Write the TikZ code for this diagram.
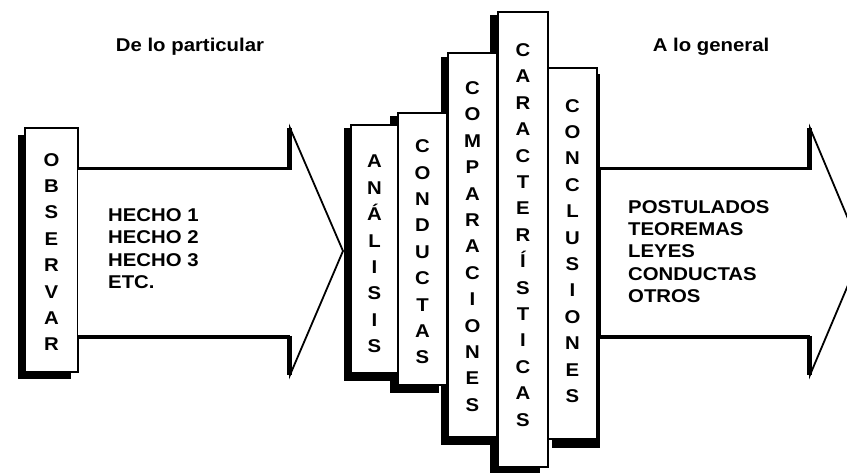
\documentclass[tikz,border=0pt]{standalone}
\usepackage{fontspec}
\setmainfont{Liberation Sans}[FakeStretch=1.1]
\begin{document}
\begin{tikzpicture}[x=1pt,y=-1pt,
  boxline/.style={draw=black, fill=white, line width=1.4pt, line join=miter},
  shadowfill/.style={fill=black},
  lettercol/.style={font=\bfseries\fontsize{18.5}{26.4}\selectfont, align=center, inner sep=0pt},
  listtext/.style={font=\bfseries\fontsize{18.5}{22.4}\selectfont, align=left, inner sep=0pt, anchor=west},
  headtext/.style={font=\bfseries\fontsize{18.5}{22}\selectfont, inner sep=0pt}]
\useasboundingbox (0,0) rectangle (847,473);
\clip (0,0) rectangle (847,473);
\fill[white] (0,0) rectangle (847,473);

% headings
\node[headtext] (particular) at (190,47) {De lo particular};
\node[headtext] (general) at (711,47) {A lo general};

% OBSERVAR box
\fill[shadowfill] (18,135) rectangle (71,379);
\draw[boxline] (25,128) rectangle (78,372);
\node[lettercol] (observar) at (51.5,252) {O\\B\\S\\E\\R\\V\\A\\R};

% first arrow
\draw[boxline, line width=1.8pt] (78,169) -- (290,169) -- (290,128) -- (343,251) -- (290,375) -- (290,337) -- (78,337);
\draw[line width=3pt] (78,169) -- (290,169);
\draw[line width=4pt] (78,337) -- (290,337);
\draw[line width=5pt] (289,128) -- (289,170);
\draw[line width=5pt] (289,336) -- (289,375);
\node[listtext] (hechos) at (108,248.5) {HECHO 1\\HECHO 2\\HECHO 3\\ETC.};

% stacked boxes, back to front
\fill[shadowfill] (490,15) rectangle (540,474);
\draw[boxline] (498,12) rectangle (548,467);
\node[lettercol] (caracteristicas) at (523,235) {C\\A\\R\\A\\C\\T\\E\\R\\Í\\S\\T\\I\\C\\A\\S};

\fill[shadowfill] (552,74) rectangle (600,448);
\draw[boxline] (548,68) rectangle (597,439);
\node[lettercol] (conclusiones) at (572.5,251) {C\\O\\N\\C\\L\\U\\S\\I\\O\\N\\E\\S};

\fill[shadowfill] (441,57) rectangle (490,445);
\draw[boxline] (448,53) rectangle (497,437);
\node[lettercol] (comparaciones) at (472.5,246.5) {C\\O\\M\\P\\A\\R\\A\\C\\I\\O\\N\\E\\S};

\fill[shadowfill] (390,116) rectangle (439,393);
\draw[boxline] (398,113) rectangle (447,385);
\node[lettercol] (conductas) at (422.5,252) {C\\O\\N\\D\\U\\C\\T\\A\\S};

\fill[shadowfill] (344,128) rectangle (391,381);
\draw[boxline] (351,125) rectangle (398,373);
\node[lettercol] (analisis) at (374.5,254) {A\\N\\Á\\L\\I\\S\\I\\S};

% second arrow
\draw[boxline, line width=1.8pt] (597,169) -- (810,169) -- (810,128) -- (862,252) -- (810,375) -- (810,337) -- (597,337) -- cycle;
\draw[line width=3pt] (597,169) -- (810,169);
\draw[line width=4pt] (597,337) -- (810,337);
\draw[line width=4pt] (598.5,167) -- (598.5,339);
\draw[line width=5pt] (809,128) -- (809,170);
\draw[line width=5pt] (809,336) -- (809,375);
\node[listtext] (resultados) at (628,251.5) {POSTULADOS\\TEOREMAS\\LEYES\\CONDUCTAS\\OTROS};
\end{tikzpicture}
\end{document}
